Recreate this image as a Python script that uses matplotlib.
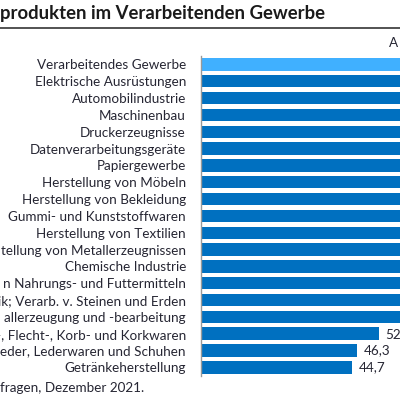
import matplotlib.pyplot as plt

# chart is a crop: left labels and bars beyond the right edge are cut off
categories = [
    "Verarbeitendes Gewerbe",
    "Elektrische Ausrüstungen",
    "Automobilindustrie",
    "Maschinenbau",
    "Druckerzeugnisse",
    "Datenverarbeitungsgeräte",
    "Papiergewerbe",
    "Herstellung von Möbeln",
    "Herstellung von Bekleidung",
    "Gummi- und Kunststoffwaren",
    "Herstellung von Textilien",
    "tellung von Metallerzeugnissen",
    "Chemische Industrie",
    "n Nahrungs- und Futtermitteln",
    "ik; Verarb. v. Steinen und Erden",
    "allerzeugung und -bearbeitung",
    "-, Flecht-, Korb- und Korkwaren",
    "eder, Lederwaren und Schuhen",
    "Getränkeherstellung",
]
# values above ~59 run past the cropped edge (estimated)
values = [81.9, 92.8, 91.5, 90.8, 88.0, 87.5, 86.0, 84.0, 82.0, 80.1,
          79.0, 77.2, 74.0, 71.0, 69.0, 63.4, 52.7, 46.3, 44.7]
highlight = "Verarbeitendes Gewerbe"

title = "produkten im Verarbeitenden Gewerbe"
unit_label = "A"
source = "fragen, Dezember 2021."

plt.rcParams['font.family'] = ['Lato', 'DejaVu Sans']
txt = "#262633"
dark = "#0070C0"
light = "#40B0FF"

fig = plt.figure(figsize=(4, 4), dpi=100)
ax = fig.add_axes([0.5025, 0.0605, 0.84375, 0.7995])

y = list(range(len(categories)))
colors = [light if c == highlight else dark for c in categories]
ax.barh(y, values, height=0.74, color=colors)
ax.set_xlim(0, 100)
ax.set_ylim(len(categories) - 0.5, -0.5)

for yi, v in zip(y, values):
    if v < 60:
        ax.text(v + 2, yi, f"{v:.1f}".replace(".", ","), va="center", ha="left",
                fontsize=9.7, color=txt)

ax.set_yticks(y)
ax.set_yticklabels(categories, fontsize=9.7, color=txt)
ax.tick_params(axis="y", length=0, pad=10.8)
ax.set_xticks([])
for s in ["top", "right", "bottom"]:
    ax.spines[s].set_visible(False)
ax.spines["left"].set_color("#999999")
ax.spines["left"].set_linewidth(1)

fig.text(0.0, 1 - 14 / 400, title, fontsize=13.3, fontweight="bold",
         color="#1a1a1a", ha="left", va="center")
fig.add_artist(plt.Line2D([0, 1], [1 - 28 / 400, 1 - 28 / 400],
                          color="#444444", linewidth=1.3))
fig.text(389 / 400, 1 - 43 / 400, unit_label, fontsize=9.7, color=txt,
         ha="left", va="center")
fig.text(0.0, 1 - 388 / 400, source, fontsize=9.7, color=txt,
         ha="left", va="center")

fig.savefig("out.png", dpi=100)
